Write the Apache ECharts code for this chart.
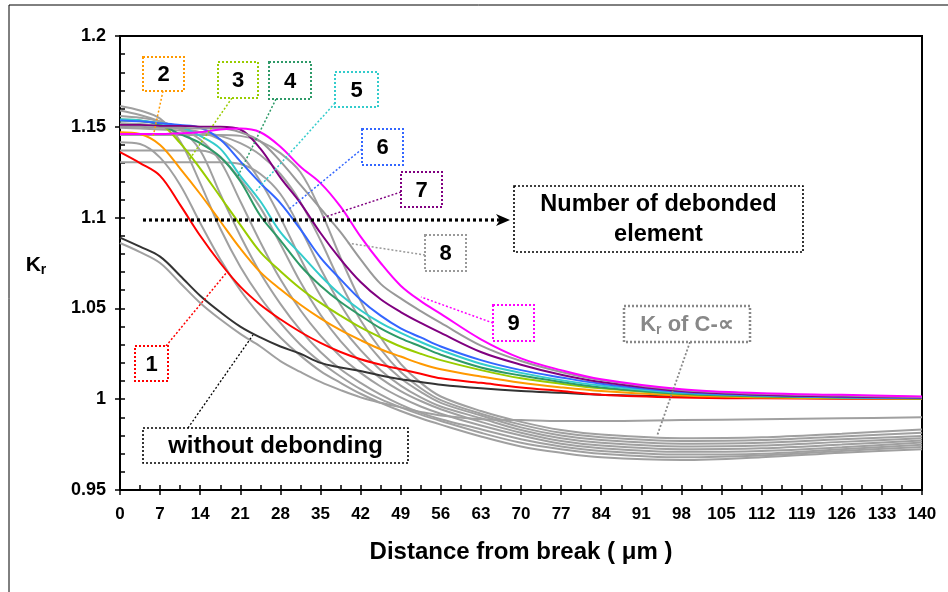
<!DOCTYPE html>
<html><head><meta charset="utf-8">
<script src="https://cdn.jsdelivr.net/npm/echarts@6/dist/echarts.min.js"></script>
<style>html,body{margin:0;padding:0;background:#fff;}#c{width:948px;height:592px;}</style>
</head><body><div id="c"></div>
<script>
// Distance from break (µm), shared by every curve
const X = [0,3.5,7,10.5,14,17.5,21,24.5,28,31.5,35,38.5,42,45.5,49,52.5,56,63,70,77,84,98,112,126,140];
const xTicks = [0,7,14,21,28,35,42,49,56,63,70,77,84,91,98,105,112,119,126,133,140];
const yTicks = [0.95,1,1.05,1.1,1.15,1.2];

// Kr, without debonding
const noDebond = [1.089,1.084,1.0785,1.068,1.057,1.048,1.040,1.034,1.029,1.025,1.020,1.0175,1.0155,1.013,1.011,1.0095,1.008,1.006,1.0045,1.0035,1.0025,1.0015,1.001,1.0005,1.0004];
// Kr with n debonded elements
const deb1 = [1.136,1.130,1.123,1.107,1.090,1.075,1.062,1.052,1.044,1.037,1.031,1.026,1.022,1.019,1.0165,1.014,1.0115,1.009,1.0065,1.0045,1.0025,1.001,1.0005,1.0003,1.0002];
const deb2 = [1.147,1.146,1.140,1.127,1.113,1.098,1.083,1.070,1.0605,1.052,1.0445,1.038,1.0325,1.0275,1.0235,1.0195,1.0165,1.0125,1.009,1.0065,1.0045,1.002,1.001,1.0005,1.0003];
const deb3 = [1.1535,1.153,1.1515,1.141,1.127,1.1115,1.096,1.081,1.0705,1.061,1.053,1.046,1.0395,1.034,1.029,1.025,1.0215,1.016,1.0115,1.0085,1.006,1.0028,1.0015,1.0008,1.0004];
const deb4 = [1.154,1.1535,1.151,1.146,1.141,1.1335,1.12,1.101,1.0875,1.0735,1.0625,1.0535,1.046,1.039,1.0335,1.029,1.0245,1.0175,1.013,1.0095,1.0065,1.003,1.0016,1.001,1.0005];
const deb5 = [1.154,1.1535,1.152,1.150,1.145,1.138,1.123,1.109,1.092,1.080,1.068,1.0575,1.049,1.042,1.0365,1.0315,1.027,1.0195,1.0145,1.0105,1.0075,1.0035,1.002,1.001,1.0006];
const deb6 = [1.1535,1.153,1.152,1.151,1.1495,1.143,1.131,1.119,1.108,1.0935,1.078,1.066,1.0548,1.046,1.039,1.034,1.029,1.0215,1.016,1.012,1.0085,1.004,1.0022,1.0012,1.0008];
const deb7 = [1.151,1.151,1.1505,1.1505,1.150,1.150,1.1485,1.138,1.122,1.108,1.0915,1.077,1.0645,1.055,1.048,1.042,1.0365,1.026,1.019,1.0135,1.0095,1.0045,1.0025,1.0015,1.001];
const deb8 = [1.150,1.150,1.1495,1.1495,1.149,1.149,1.147,1.142,1.131,1.118,1.105,1.092,1.077,1.0635,1.0555,1.0485,1.042,1.0295,1.021,1.015,1.0105,1.005,1.003,1.002,1.0012];
const deb9 = [1.146,1.146,1.146,1.1465,1.147,1.1485,1.149,1.147,1.139,1.128,1.119,1.106,1.0895,1.075,1.0625,1.054,1.047,1.033,1.0225,1.016,1.011,1.0055,1.0033,1.0024,1.0015];

// Kr of C-∝ (grey family)
const ca0 = [1.086,1.081,1.075,1.064,1.053,1.044,1.036,1.029,1.021,1.015,1.0095,1.005,1.001,0.998,0.9955,0.993,0.991,0.989,0.9885,0.988,0.988,0.9885,0.989,0.9895,0.990];
const ca1 = [1.1415,1.1405,1.133,1.118,1.097,1.077,1.060,1.046,1.034,1.024,1.0155,1.009,1.003,0.998,0.9935,0.9895,0.986,0.9795,0.974,0.9705,0.968,0.9665,0.968,0.9705,0.9725];
const ca2 = [1.1615,1.159,1.1545,1.142,1.119,1.094,1.073,1.056,1.042,1.030,1.0205,1.0125,1.0055,1.000,0.9955,0.9915,0.988,0.9815,0.976,0.9725,0.970,0.968,0.969,0.9715,0.9737];
const ca3 = [1.159,1.1565,1.153,1.1485,1.137,1.113,1.090,1.0695,1.0525,1.038,1.026,1.0165,1.009,1.0025,0.997,0.9925,0.989,0.9835,0.978,0.974,0.9715,0.9695,0.970,0.9725,0.9749];
const ca4 = [1.156,1.155,1.153,1.149,1.143,1.131,1.109,1.0865,1.066,1.049,1.035,1.0235,1.0145,1.007,1.001,0.996,0.992,0.9855,0.980,0.9755,0.973,0.971,0.9715,0.9735,0.9761];
const ca5 = [1.137,1.137,1.137,1.137,1.137,1.133,1.121,1.1055,1.0855,1.0645,1.0465,1.032,1.0205,1.0115,1.0045,0.999,0.9945,0.9875,0.9815,0.977,0.9745,0.9725,0.973,0.975,0.9773];
const ca6 = [1.152,1.1515,1.1505,1.149,1.147,1.143,1.135,1.120,1.100,1.0775,1.057,1.0405,1.027,1.016,1.0075,1.001,0.996,0.9895,0.983,0.9785,0.976,0.974,0.9745,0.9765,0.9785];
const ca7 = [1.1305,1.1305,1.1305,1.1305,1.1305,1.1305,1.1295,1.124,1.113,1.094,1.072,1.052,1.0355,1.022,1.0115,1.004,0.998,0.991,0.9845,0.980,0.9775,0.9755,0.976,0.978,0.9797];
const ca8 = [1.1495,1.149,1.1485,1.148,1.147,1.145,1.141,1.1345,1.124,1.1085,1.0875,1.064,1.0435,1.0275,1.015,1.006,0.9995,0.992,0.986,0.9815,0.979,0.977,0.9775,0.9795,0.9815];
const ca9 = [1.1455,1.1455,1.1455,1.1455,1.1455,1.1455,1.145,1.142,1.1355,1.125,1.104,1.078,1.054,1.034,1.0195,1.009,1.0015,0.9935,0.9875,0.983,0.9805,0.9785,0.979,0.981,0.9833];

const GRAY = '#a0a0a0';
const FONT = '"Liberation Sans", Arial, sans-serif';

function pts(ys){ return X.map((x,i)=>[x, ys[i]]); }
function line(name, ys, color, w){
  return {name:name, type:'line', data:pts(ys), showSymbol:false, symbol:'none',
    smooth:0.35, lineStyle:{color:color, width:w||2}, itemStyle:{color:color},
    silent:true, animation:false, z:2};
}
const series = [
  line('C-∝ 0', ca0, GRAY), line('C-∝ 1', ca1, GRAY), line('C-∝ 2', ca2, GRAY), line('C-∝ 3', ca3, GRAY),
  line('C-∝ 4', ca4, GRAY), line('C-∝ 5', ca5, GRAY), line('C-∝ 6', ca6, GRAY), line('C-∝ 7', ca7, GRAY),
  line('C-∝ 8', ca8, GRAY), line('C-∝ 9', ca9, GRAY),
  line('without debonding', noDebond, '#333333'),
  line('1', deb1, '#ff0000'), line('2', deb2, '#ff9900'), line('3', deb3, '#99cc00'),
  line('4', deb4, '#2e9a68'), line('5', deb5, '#33cccc'), line('6', deb6, '#3366ff'),
  line('7', deb7, '#800080'), line('8', deb8, '#999999'), line('9', deb9, '#ff00ff')
];

// annotation helpers (pixel positions)
const G = [];
function leader(x1,y1,x2,y2,color,w){
  G.push({type:'line', shape:{x1:x1,y1:y1,x2:x2,y2:y2}, style:{stroke:color, lineWidth:w||1.5, lineDash:[2,2]}, z:20});
}
function box(x1,y1,x2,y2,color,w){
  G.push({type:'rect', shape:{x:x1,y:y1,width:x2-x1,height:y2-y1}, style:{fill:'#fff', stroke:color, lineWidth:w||2, lineDash:[2,2]}, z:21});
}
function label(x,y,txt,size,color){
  G.push({type:'text', x:x, y:y, style:{text:txt, font:'bold '+size+'px '+FONT, fill:color||'#000', align:'center', verticalAlign:'middle'}, z:22});
}
// leaders
leader(166,346,227,272,'#ff0000');
leader(163,91,153,137,'#ff9900');
leader(232,98,189,160,'#99cc00');
leader(276,99,237,178,'#2e9a68');
leader(335,103,255,192,'#33cccc');
leader(362,149,288,210,'#3366ff');
leader(401,192,322,218,'#800080');
leader(425,255,347,243,'#999999');
leader(493,323,421,297,'#ff00ff');
leader(188,428,253,335,'#000000',1.3);
leader(690,342,657,436,'#888888',1.8);
// big dotted arrow
G.push({type:'line', shape:{x1:143,y1:220,x2:500,y2:220}, style:{stroke:'#000', lineWidth:3.2, lineDash:[3,3]}, z:20});
G.push({type:'polygon', shape:{points:[[496,214],[510,220],[496,226],[500,220]]}, style:{fill:'#000'}, z:20});
// boxes
const boxes = [
  [135,346,168,381,'#ff0000','1'],[143,57,184,91,'#ff9900','2'],[218,62,258,98,'#99cc00','3'],
  [269,62,311,99,'#2e9a68','4'],[335,72,378,107,'#33cccc','5'],[362,129,403,165,'#3366ff','6'],
  [401,172,442,207,'#800080','7'],[425,235,466,271,'#999999','8'],[493,305,534,341,'#ff00ff','9']
];
boxes.forEach(b=>{ box(b[0],b[1],b[2],b[3],b[4]); label((b[0]+b[2])/2,(b[1]+b[3])/2+1,b[5],22); });
box(143,428,408,463,'#000',1.6); label(275.5,446,'without debonding',24);
box(514,186,803,252,'#000',1.6); label(658.5,205,'Number of debonded',23.5); label(658.5,235,'element',23.5);
box(624,306,750,342,'#888888',2.5);
G.push({type:'text', x:687, y:325, style:{text:'{a|K}{b|r}{a| of C-∝}', align:'center', verticalAlign:'middle',
  rich:{a:{font:'bold 22px '+FONT, fill:'#888888'}, b:{font:'bold 14px '+FONT, fill:'#888888', padding:[10,0,0,0]}}}, z:22});
// y axis name K_r
G.push({type:'text', x:36, y:265, style:{text:'{a|K}{b|r}', align:'center', verticalAlign:'middle',
  rich:{a:{font:'bold 21px '+FONT, fill:'#000'}, b:{font:'bold 14px '+FONT, fill:'#000', padding:[10,0,0,0]}}}, z:22});
// outer frame
G.push({type:'polyline', shape:{points:[[9,592],[9,5],[948,5]]}, style:{stroke:'#000', lineWidth:1, fill:null}, z:1});

const tickCommon = {lineStyle:{color:'#000', width:1.5}};
const option = {
  animation:false,
  backgroundColor:'#fff',
  grid:{left:120, right:26, top:36, bottom:102, show:true, borderColor:'#000', borderWidth:2, backgroundColor:'transparent'},
  xAxis:[
    {type:'value', min:xTicks[0], max:xTicks[xTicks.length-1], interval:7, position:'bottom',
     axisLine:{lineStyle:{color:'#000', width:2}},
     axisTick:Object.assign({inside:true, length:5}, tickCommon),
     minorTick:Object.assign({show:true, splitNumber:2, length:5}, tickCommon),
     splitLine:{show:false}, minorSplitLine:{show:false},
     axisLabel:{margin:16, color:'#000', fontWeight:'bold', fontSize:17, fontFamily:FONT,
       formatter:v=> xTicks.indexOf(v)>=0 ? String(v) : ''},
     name:'Distance from break ( μm )', nameLocation:'middle', nameGap:50,
     nameTextStyle:{color:'#000', fontWeight:'bold', fontSize:24, fontFamily:FONT}},
    {type:'value', min:xTicks[0], max:xTicks[xTicks.length-1], interval:7, position:'bottom',
     axisLine:{show:false}, axisTick:Object.assign({inside:false, length:5}, tickCommon),
     axisLabel:{show:false}, splitLine:{show:false}}
  ],
  yAxis:[
    {type:'value', min:yTicks[0], max:yTicks[yTicks.length-1], interval:0.05, position:'left',
     axisLine:{show:true, lineStyle:{color:'#000', width:2}},
     axisTick:Object.assign({show:true, inside:true, length:5}, tickCommon),
     minorTick:Object.assign({show:true, splitNumber:5, length:5}, tickCommon),
     splitLine:{show:false}, minorSplitLine:{show:false},
     axisLabel:{margin:14, color:'#000', fontWeight:'bold', fontSize:18, fontFamily:FONT,
       formatter:v=> String(parseFloat(v.toFixed(2)))}},
    {type:'value', min:yTicks[0], max:yTicks[yTicks.length-1], interval:0.05, position:'left',
     axisLine:{show:false}, axisTick:Object.assign({show:true, inside:false, length:5}, tickCommon),
     axisLabel:{show:false}, splitLine:{show:false}}
  ],
  series: series,
  graphic: G
};
const chart = echarts.init(document.getElementById('c'), null, {renderer:'canvas'});
chart.setOption(option);
</script></body></html>
